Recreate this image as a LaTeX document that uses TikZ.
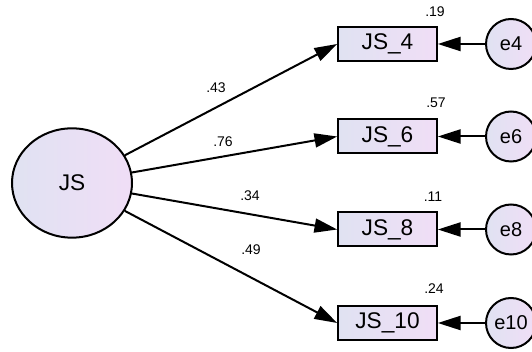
\documentclass[tikz,border=0pt]{standalone}
\usepackage{fontspec}
\setmainfont{Liberation Sans}
\usetikzlibrary{shapes.geometric,arrows.meta}

\tikzset{every picture/.style={line width=1.5pt}}
\tikzset{
  lavender/.style={left color={rgb,255:red,224;green,226;blue,242}, right color={rgb,255:red,240;green,222;blue,246}},
  latent/.style={draw, ellipse, lavender, minimum width=90pt, minimum height=82pt, inner sep=0pt, font=\fontsize{17}{20}\selectfont},
  observed/.style={draw, rectangle, lavender, minimum width=74pt, minimum height=25.5pt, inner sep=0pt, font=\fontsize{17}{20}\selectfont},
  errvar/.style={draw, circle, lavender, minimum size=37.5pt, inner sep=0pt, font=\fontsize{15}{18}\selectfont},
  coef/.style={inner sep=0.75pt, font=\fontsize{10.5}{12}\selectfont},
  path/.style={-{Triangle[length=17pt,width=10.5pt]}}
}

\begin{document}
\begin{tikzpicture}[x=0.75pt,y=0.75pt,yscale=-1]
	\useasboundingbox (0,0) rectangle (532,352);

	% Latent variable
	\node [latent] (JS) at (72,183) {JS};

	% Indicators
	\node [observed] (JS4) at (387.5,44) {JS\_4};
	\node [observed] (JS6) at (387.5,136.5) {JS\_6};
	\node [observed] (JS8) at (387.5,229.5) {JS\_8};
	\node [observed] (JS10) at (387.5,323) {JS\_10};

	% Error terms
	\node [errvar] (e4) at (511,44) {e4};
	\node [errvar] (e6) at (511,136.5) {e6};
	\node [errvar] (e8) at (511,229.5) {e8};
	\node [errvar] (e10) at (511,323) {e10};

	% Squared multiple correlations
	\node [coef] (r4) at (435,12) {.19};
	\node [coef] (r6) at (436,103) {.57};
	\node [coef] (r8) at (433,197) {.11};
	\node [coef] (r10) at (434,289) {.24};

	% Loadings
	\node [coef] (l4) at (216,88) {.43};
	\node [coef] (l6) at (223,142) {.76};
	\node [coef] (l8) at (250,196) {.34};
	\node [coef] (l10) at (251,250) {.49};

	% Connections
	\draw [path] (JS) -- (JS4.west);
	\draw [path] (JS) -- (JS6.west);
	\draw [path] (JS) -- (JS8.west);
	\draw [path] (JS) -- (JS10.west);
	\draw [path] (e4) -- (JS4);
	\draw [path] (e6) -- (JS6);
	\draw [path] (e8) -- (JS8);
	\draw [path] (e10) -- (JS10);

\end{tikzpicture}
\end{document}
